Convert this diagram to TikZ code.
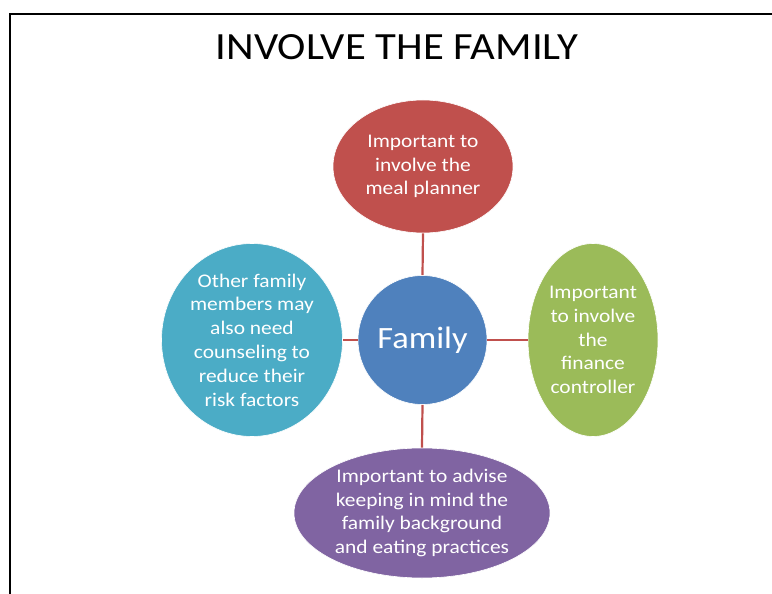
\documentclass[tikz,border=0pt]{standalone}
\usepackage{fontspec}
\setmainfont{Carlito}[FakeStretch=1.11]
\usetikzlibrary{shapes.geometric}
\definecolor{cred}{HTML}{C0504D}
\definecolor{cblue}{HTML}{4F81BD}
\definecolor{cgreen}{HTML}{9BBB59}
\definecolor{cpurple}{HTML}{8064A2}
\definecolor{cteal}{HTML}{4BACC6}
\tikzset{
  blob/.style={ellipse, inner sep=0pt, text=white, align=center,
    font=\fontsize{19.3}{23.8}\selectfont, draw=white, line width=0.6pt},
  link/.style={draw=cred, line width=2.2pt},
  frameline/.style={line width=2pt, draw=black}
}
\begin{document}
\begin{tikzpicture}[x=1pt,y=-1pt]
\useasboundingbox[fill=white] (0,0) rectangle (772,594);
\coordinate (fa) at (9,14);
\coordinate (fb) at (772,14);
\coordinate (fc) at (10,594);
\draw[frameline] (fb) -- (fa) -- (10,14) -- (fc);
\node[anchor=base, font=\fontsize{38.5}{46}\selectfont] (title) at (397,60) {INVOLVE THE FAMILY};
\node[blob, fill=cred, minimum width=180, minimum height=133] (top) at (423,166.5)
  {Important to\\involve the\\meal planner};
\node[blob, fill=cteal, minimum width=181, minimum height=193] (left) at (252,340)
  {Other family\\members may\\also need\\counseling to\\reduce their\\risk factors};
\node[blob, fill=cgreen, minimum width=130, minimum height=193] (right) at (593,340)
  {Important\\to involve\\the\\finance\\controller};
\node[blob, fill=cpurple, minimum width=256, minimum height=130] (bottom) at (422,513)
  {Important to advise\\keeping in mind the\\family background\\and eating practices};
\node[circle, fill=cblue, draw=white, line width=0.6pt, minimum size=129, inner sep=0pt,
  text=white, font=\fontsize{31}{37}\selectfont] (fam) at (422.5,340) {Family};
\draw[link] (top.south) -- (fam.north);
\draw[link] (fam.south) -- (bottom.north);
\draw[link] (left.east) -- (fam.west);
\draw[link] (fam.east) -- (right.west);
\end{tikzpicture}
\end{document}
